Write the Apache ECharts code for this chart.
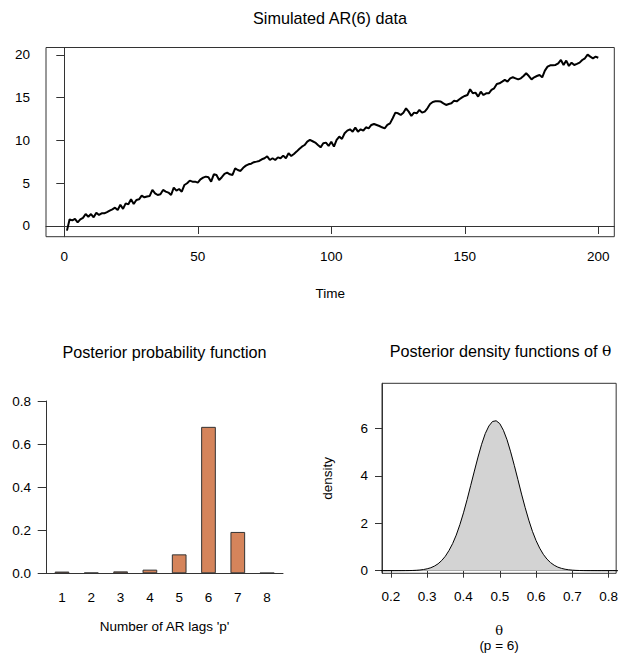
<!DOCTYPE html>
<html><head><meta charset="utf-8">
<script src="https://cdn.jsdelivr.net/npm/echarts@6/dist/echarts.min.js"></script>
<style>html,body{margin:0;padding:0;background:#fff}#c{width:621px;height:657px}</style>
</head><body><div id="c"></div>
<script>
// ---------- Data ----------
const arSeries = [
 -0.54, 0.78, 0.66, 0.82, 0.43, 0.78, 0.95, 1.40, 1.09, 1.40,
  1.01, 1.56, 1.29, 1.48, 1.48, 1.62, 1.79, 1.95, 2.14, 1.87,
  2.49, 2.00, 2.65, 2.53, 3.12, 2.57, 3.04, 3.12, 3.54, 3.35,
  3.45, 3.51, 4.21, 3.82, 3.62, 3.70, 4.21, 4.01, 3.90, 3.62,
  4.48, 4.13, 4.32, 4.01, 4.79, 4.99, 5.30, 5.18, 5.18, 5.06,
  5.45, 5.65, 5.77, 5.69, 5.18, 6.04, 5.96, 5.38, 5.70, 6.08,
  6.23, 6.04, 5.96, 6.74, 6.54, 6.43, 6.80, 7.05, 7.21, 7.28,
  7.45, 7.52, 7.60, 7.79, 7.91, 8.14, 7.71, 7.91, 7.71, 8.02,
  7.91, 8.22, 7.91, 8.49, 8.18, 8.41, 8.69, 9.00, 9.27, 9.46,
  9.85, 10.05, 9.90, 9.74, 9.46, 9.19, 9.66, 9.74, 9.35, 9.85,
  9.27, 10.05, 10.44, 10.17, 10.83, 11.14, 11.29, 11.02, 11.49, 11.02,
  11.29, 11.14, 11.53, 11.41, 11.80, 11.92, 11.80, 11.68, 11.53, 11.41,
  11.80, 11.99, 12.58, 13.24, 13.16, 12.97, 13.24, 13.75, 13.36, 12.85,
  13.24, 13.16, 13.55, 13.24, 13.36, 13.75, 14.25, 14.49, 14.56, 14.56,
  14.53, 14.33, 14.14, 14.25, 14.33, 14.64, 14.56, 14.80, 15.03, 15.19,
  15.30, 15.97, 15.50, 15.58, 15.11, 15.69, 15.30, 15.50, 15.50, 15.89,
  16.08, 16.59, 16.67, 16.86, 17.06, 16.86, 17.25, 17.37, 17.25, 17.13,
  17.25, 17.52, 17.84, 17.52, 17.13, 17.37, 17.52, 17.64, 17.37, 18.15,
  18.61, 18.77, 18.77, 18.81, 19.00, 19.39, 18.81, 19.32, 18.69, 19.08,
  18.81, 18.93, 19.08, 19.39, 19.59, 20.02, 19.78, 19.59, 19.78, 19.65
];
const timeTicks = [0, 50, 100, 150, 200];
const arTicks = [0, 5, 10, 15, 20];

const lagCategories = [1, 2, 3, 4, 5, 6, 7, 8];
const lagProb = [0.008, 0.003, 0.009, 0.017, 0.088, 0.680, 0.192, 0.002];
const probTicks = [0, 0.2, 0.4, 0.6, 0.8];

const thetaGrid = [
 0.17, 0.18, 0.19, 0.20, 0.21, 0.22, 0.23, 0.24, 0.25, 0.26,
 0.27, 0.28, 0.29, 0.30, 0.31, 0.32, 0.33, 0.34, 0.35, 0.36,
 0.37, 0.38, 0.39, 0.40, 0.41, 0.42, 0.43, 0.44, 0.45, 0.46,
 0.47, 0.48, 0.49, 0.50, 0.51, 0.52, 0.53, 0.54, 0.55, 0.56,
 0.57, 0.58, 0.59, 0.60, 0.61, 0.62, 0.63, 0.64, 0.65, 0.66,
 0.67, 0.68, 0.69, 0.70, 0.71, 0.72, 0.73, 0.74, 0.75, 0.76,
 0.77, 0.78, 0.79, 0.80, 0.81, 0.82, 0.83
];
const thetaDensity = [
 0, 0, 0, 0.0002, 0.0004, 0.001, 0.002, 0.003, 0.005, 0.010,
 0.017, 0.029, 0.050, 0.080, 0.125, 0.195, 0.29, 0.43, 0.61, 0.85,
 1.14, 1.50, 1.94, 2.44, 3.00, 3.60, 4.20, 4.79, 5.33, 5.78,
 6.10, 6.29, 6.32, 6.20, 5.92, 5.52, 5.01, 4.44, 3.84, 3.23,
 2.66, 2.13, 1.66, 1.27, 0.95, 0.69, 0.49, 0.34, 0.23, 0.15,
 0.098, 0.062, 0.038, 0.023, 0.013, 0.008, 0.004, 0.002, 0.001, 0.0005,
 0, 0, 0, 0, 0, 0, 0
];
const thetaTicks = [0.2, 0.3, 0.4, 0.5, 0.6, 0.7, 0.8];
const densityTicks = [0, 2, 4, 6];

// ---------- Chart ----------
const FONT = '"Liberation Sans", Arial, Helvetica, sans-serif';
const FS = 13.5;
const INK = '#000';
const AXC = '#333';

const chart = echarts.init(document.getElementById('c'), null, {renderer: 'svg'});

const lineData = arSeries.map((v, i) => [i + 1, v]);
const barData = lagCategories.map((c, i) => [c, lagProb[i]]);
const densData = thetaGrid.map((t, i) => [t, thetaDensity[i]]);

function valAxis(o) {
  return Object.assign({
    type: 'value',
    splitLine: {show: false},
    axisLine: {show: true, lineStyle: {color: AXC, width: 1}},
    axisTick: {show: true, inside: false, length: 8, lineStyle: {color: AXC, width: 1}},
    axisLabel: {color: INK, fontSize: FS, fontFamily: FONT},
    nameTextStyle: {color: INK, fontSize: FS, fontFamily: FONT}
  }, o);
}

const option = {
  animation: false,
  backgroundColor: '#fff',
  grid: [
    {left: 46, top: 47.5, width: 568.3, height: 189.2, show: true, borderColor: AXC, borderWidth: 1, containLabel: false},
    {left: 46, top: 401, width: 237, height: 172.3, show: false, containLabel: false},
    {left: 382, top: 383.3, width: 236.3, height: 190, show: true, borderColor: AXC, borderWidth: 1, containLabel: false}
  ],
  xAxis: [
    valAxis({gridIndex: 0, min: -6.85, max: 206,
      axisTick: {show: true, length: 8, customValues: timeTicks, lineStyle: {color: AXC}},
      axisLabel: {customValues: timeTicks, margin: 13, color: INK, fontSize: FS, fontFamily: FONT},
      name: 'Time', nameLocation: 'middle', nameGap: 50}),
    valAxis({gridIndex: 1, min: 0.454, max: 8.543,
      axisTick: {show: false},
      axisLabel: {customValues: lagCategories, margin: 17, color: INK, fontSize: FS, fontFamily: FONT},
      name: "Number of AR lags 'p'", nameLocation: 'middle', nameGap: 46}),
    valAxis({gridIndex: 2, min: 0.1754, max: 0.8208,
      axisTick: {show: true, length: 7, customValues: thetaTicks, lineStyle: {color: AXC}},
      axisLabel: {customValues: thetaTicks, margin: 16, color: INK, fontSize: FS, fontFamily: FONT,
        formatter: v => v.toFixed(1)},
      name: '{t|θ}\n(p = 6)', nameLocation: 'middle', nameGap: 50,
      nameTextStyle: {color: INK, fontSize: FS, fontFamily: FONT, lineHeight: 15,
        rich: {t: {fontFamily: '"DejaVu Serif", "Liberation Serif", serif', fontSize: 13, color: INK, lineHeight: 15}}}})
  ],
  yAxis: [
    valAxis({gridIndex: 0, min: -1.25, max: 20.85,
      axisTick: {show: true, length: 8, customValues: arTicks, lineStyle: {color: AXC}},
      axisLabel: {customValues: arTicks, margin: 16, color: INK, fontSize: FS, fontFamily: FONT}}),
    valAxis({gridIndex: 1, min: 0, max: 0.8,
      axisTick: {show: true, length: 8.3, customValues: probTicks, lineStyle: {color: AXC}},
      axisLabel: {customValues: probTicks, margin: 15, color: INK, fontSize: FS, fontFamily: FONT,
        formatter: v => v.toFixed(1)}}),
    valAxis({gridIndex: 2, min: -0.11, max: 7.9,
      axisTick: {show: true, length: 7, customValues: densityTicks, lineStyle: {color: AXC}},
      axisLabel: {customValues: densityTicks, margin: 14, color: INK, fontSize: FS, fontFamily: FONT},
      name: 'density', nameLocation: 'middle', nameGap: 48, nameRotate: 90})
  ],
  graphic: [
    {type: 'text', x: 330, y: 18, style: {text: 'Simulated AR(6) data', font: '16.2px ' + FONT, fill: INK, textAlign: 'center', textVerticalAlign: 'middle'}},
    {type: 'text', x: 164.5, y: 351.7, style: {text: 'Posterior probability function', font: '16.2px ' + FONT, fill: INK, textAlign: 'center', textVerticalAlign: 'middle'}},
    {type: 'text', x: 500.5, y: 350.7, style: {
      text: '{a|Posterior density functions of }{t|θ}',
      textAlign: 'center', textVerticalAlign: 'middle',
      rich: {a: {fontSize: 16.2, fontFamily: FONT, fill: INK, color: INK},
             t: {fontSize: 15.5, fontFamily: '"DejaVu Serif", "Liberation Serif", serif', fill: INK, color: INK}}}}
  ],
  series: [
    {type: 'line', xAxisIndex: 0, yAxisIndex: 0, data: lineData, showSymbol: false,
     lineStyle: {color: '#000', width: 2}, silent: true},
    {type: 'bar', xAxisIndex: 1, yAxisIndex: 1, data: barData, barWidth: 14.7,
     itemStyle: {color: '#D5845B', borderColor: '#333', borderWidth: 1}, silent: true},
    {type: 'line', xAxisIndex: 2, yAxisIndex: 2, data: densData, showSymbol: false,
     lineStyle: {color: '#000', width: 1}, areaStyle: {color: '#D3D3D3', opacity: 1}, silent: true}
  ]
};
chart.setOption(option);
</script>
</body></html>
